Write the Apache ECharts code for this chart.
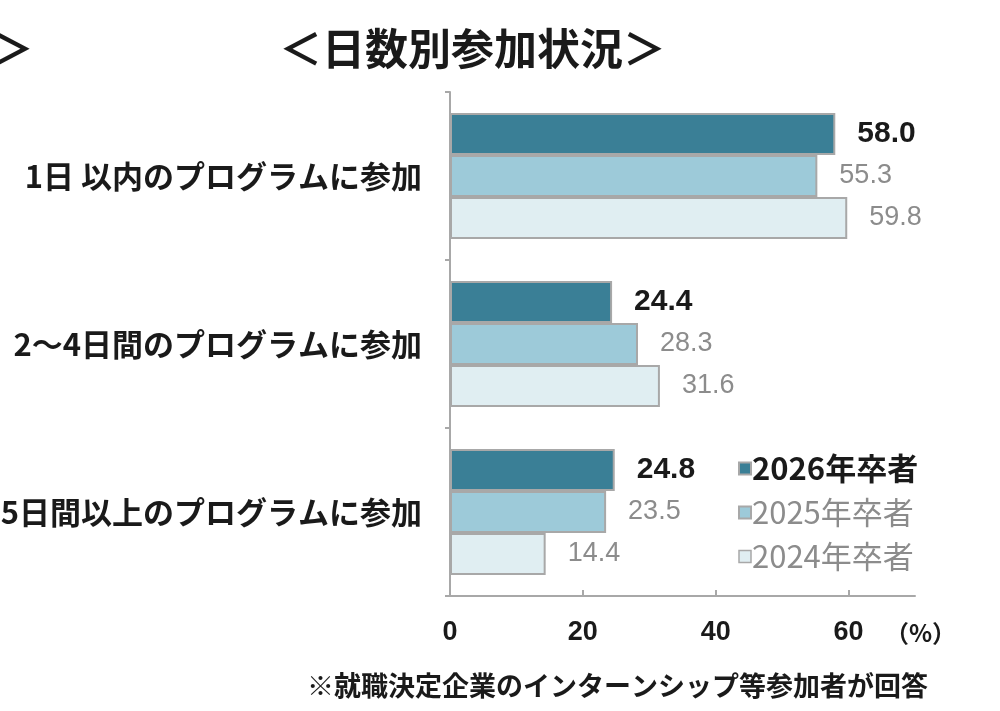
<!DOCTYPE html>
<html>
<head>
<meta charset="utf-8">
<script src="https://cdn.jsdelivr.net/npm/echarts@6/dist/echarts.min.js"></script>
<style>
html,body{margin:0;padding:0;background:#fff;}
#main{width:1000px;height:711px;}
</style>
</head>
<body>
<div id="main"></div>
<script>
// カテゴリ
var categories = ['1日 以内のプログラムに参加', '2～4日間のプログラムに参加', '5日間以上のプログラムに参加'];
// 系列
var seriesNames = ['2026年卒者', '2025年卒者', '2024年卒者'];
var data2026 = [58.0, 24.4, 24.8];
var data2025 = [55.3, 28.3, 23.5];
var data2024 = [59.8, 31.6, 14.4];
var tickValues = [0, 20, 40, 60];

var jpFont = '"Noto Sans CJK JP", sans-serif';
var numFont = '"Liberation Sans", Arial, sans-serif';
var colors = ['#3a7f96', '#9dcad9', '#e0eef2'];

function makeSeries(name, data, idx) {
    var main = idx === 0;
    return {
        name: name,
        type: 'bar',
        data: data,
        barGap: 0,
        barCategoryGap: '25%',
        itemStyle: {
            color: colors[idx],
            borderColor: '#a8a8a8',
            borderWidth: 2
        },
        label: {
            show: true,
            position: 'right',
            distance: 22,
            formatter: function (p) { return p.value.toFixed(1); },
            fontFamily: numFont,
            fontSize: main ? 30 : 27,
            fontWeight: main ? 'bold' : 'normal',
            color: main ? '#1a1a1a' : '#8c8c8c'
        }
    };
}

var myChart = echarts.init(document.getElementById('main'));
var option = {
    backgroundColor: '#fff',
    animation: false,
    title: [{
        text: '＜日数別参加状況＞',
        left: 274, top: 22,
        textStyle: {fontFamily: jpFont, fontSize: 43, fontWeight: 'bold', color: '#1a1a1a'}
    }, {
        text: '＞',
        left: -14, top: 22,
        textStyle: {fontFamily: jpFont, fontSize: 43, fontWeight: 'bold', color: '#1a1a1a'}
    }, {
        text: '（%）',
        left: 880, top: 616,
        textStyle: {fontFamily: jpFont, fontSize: 24, fontWeight: 'bold', color: '#1a1a1a'}
    }, {
        text: '※就職決定企業のインターンシップ等参加者が回答',
        left: 302, top: 667,
        textStyle: {fontFamily: jpFont, fontSize: 27, fontWeight: 'bold', color: '#1a1a1a'}
    }],
    legend: {
        orient: 'vertical',
        left: 733, top: 448,
        itemWidth: 12, itemHeight: 12,
        itemGap: 13,
        icon: 'rect',
        data: [
            {name: seriesNames[0], textStyle: {color: '#1a1a1a', fontWeight: 'bold'}},
            {name: seriesNames[1], textStyle: {color: '#8c8c8c'}},
            {name: seriesNames[2], textStyle: {color: '#8c8c8c'}, itemStyle: {borderColor: '#a8a8a8', borderWidth: 1.5}}
        ],
        textStyle: {fontFamily: jpFont, fontSize: 31, padding: [0, 0, 0, -4]}
    },
    grid: {left: 450, right: 85, top: 92, bottom: 115, containLabel: false, outerBoundsMode: 'none'},
    xAxis: {
        type: 'value',
        min: 0, max: 70, interval: 20,
        splitLine: {show: false},
        axisLine: {show: true, lineStyle: {color: '#a8a8a8', width: 2}},
        axisTick: {show: true, inside: true, length: 6, customValues: [20, 40, 60], lineStyle: {color: '#a8a8a8', width: 2}},
        axisLabel: {
            customValues: tickValues,
            margin: 23,
            fontFamily: numFont,
            fontSize: 27, fontWeight: 'bold', color: '#1a1a1a'
        }
    },
    yAxis: {
        type: 'category',
        inverse: true,
        data: categories,
        axisLine: {show: true, lineStyle: {color: '#a8a8a8', width: 2}},
        axisTick: {show: true, length: 5, lineStyle: {color: '#a8a8a8', width: 2}},
        axisLabel: {
            margin: 28,
            fontFamily: jpFont, fontSize: 31, fontWeight: 'bold', color: '#1a1a1a'
        }
    },
    series: [
        makeSeries(seriesNames[0], data2026, 0),
        makeSeries(seriesNames[1], data2025, 1),
        makeSeries(seriesNames[2], data2024, 2)
    ]
};
myChart.setOption(option);
</script>
</body>
</html>
